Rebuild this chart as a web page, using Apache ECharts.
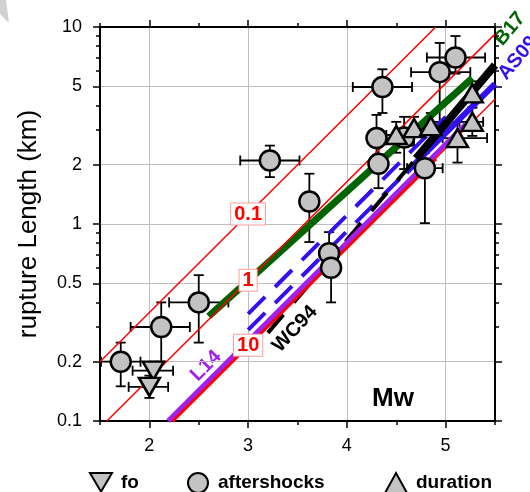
<!DOCTYPE html>
<html>
<head>
<meta charset="utf-8">
<script src="https://cdn.jsdelivr.net/npm/echarts@6/dist/echarts.min.js"></script>
<style>
html, body { margin: 0; padding: 0; background: #fff; }
#chart { width: 530px; height: 492px; }
</style>
</head>
<body>
<div id="chart"></div>
<script>
// axis ticks
var xMajor = [2, 3, 4, 5]
var xMinor = [1.5, 2.5, 3.5, 4.5, 5.5]
var yMajor = [0.1, 0.2, 0.5, 1, 2, 5, 10]
var yMinor = [0.3, 0.4, 0.6, 0.7, 0.8, 0.9, 3, 4, 6, 7, 8, 9]

// scaling lines: end points [Mw, L km]
var stress01 = [[1.5, 0.2], [4.9, 10]]
var stress1 = [[1.57, 0.1], [5.5, 9.2]]
var stress10 = [[2.23, 0.1], [5.5, 4.3]]
var stress10Thick = [[2.23, 0.1], [4.9, 2.15]]
var b17 = [[2.6, 0.34], [5.27, 5.5]]
var l14 = [[2.19, 0.1], [5.2, 3.2]]
var wc94Dash = [[3.2, 0.28], [4.7, 2.15]]
var wc94 = [[4.7, 2.15], [5.5, 6.4]]
var as09DashA = [[3.0, 0.35], [5.0, 3.5]]
var as09DashB = [[3.0, 0.29], [4.6, 1.83]]
var as09 = [[4.6, 1.83], [5.5, 5.15]]

// events: [Mw, L, Mw low, Mw high, L low, L high]
var fo = [
    [2.04, 0.18, 1.83, 2.24, 0.16, 0.20],
    [2.00, 0.149, 1.79, 2.19, 0.131, 0.17]
]
var aftershocks = [
    [1.71, 0.20, 1.51, 1.91, 0.15, 0.25],
    [2.12, 0.30, 1.81, 2.41, 0.20, 0.40],
    [2.50, 0.40, 2.20, 2.80, 0.25, 0.55],
    [3.22, 2.10, 2.92, 3.52, 1.73, 2.5],
    [3.62, 1.30, 3.62, 3.62, 0.81, 1.8],
    [3.82, 0.71, 3.82, 3.82, 0.60, 0.91],
    [3.84, 0.60, 3.84, 3.84, 0.40, 0.71],
    [4.36, 4.96, 4.06, 4.66, 3.66, 6.1],
    [4.30, 2.73, 4.30, 4.30, 2.02, 3.58],
    [4.32, 2.02, 4.32, 4.32, 1.52, 2.73],
    [4.58, 2.75, 4.58, 4.58, 1.90, 3.5],
    [4.79, 1.92, 4.61, 4.97, 1.01, 2.3],
    [4.94, 5.90, 4.65, 5.25, 3.3, 8.3],
    [5.10, 7.00, 4.81, 5.40, 5.8, 9.0]
]
var duration = [
    [4.50, 2.83, 4.40, 4.60, 2.3, 3.3],
    [4.68, 3.07, 4.58, 4.78, 2.5, 3.5],
    [4.85, 3.14, 4.75, 4.95, 2.6, 3.66],
    [5.12, 2.73, 4.97, 5.42, 2.05, 3.3],
    [5.27, 3.30, 5.14, 5.38, 2.8, 3.9],
    [5.27, 4.60, 5.27, 5.27, 3.9, 5.3]
]

var font = '"Liberation Sans", Arial, Helvetica, sans-serif'
var stressLabelMw = 3.0
var downTriangle = 'path://M0,0L20,0L10,17Z'

function lg(v) { return Math.log10(v) }
function toLog(pts) { return pts.map(function (p) { return [p[0], lg(p[1])] }) }
function atMw(pts, mw) {
    var a = toLog(pts)
    var t = (mw - a[0][0]) / (a[1][0] - a[0][0])
    return a[0][1] + t * (a[1][1] - a[0][1])
}

function lineSeries(name, pts, color, width, dash) {
    return {
        name: name, type: 'line', data: toLog(pts),
        showSymbol: false, symbol: 'none', silent: true, clip: true,
        lineStyle: { color: color, width: width, type: dash || 'solid', cap: 'butt' }
    }
}

function stressSeries(name, pts, text) {
    var s = lineSeries(name, pts, '#ff0000', 1.5)
    s.markPoint = {
        symbol: 'rect', symbolSize: 0, silent: true, animation: false,
        label: {
            show: true, position: 'inside', formatter: text,
            color: '#ff0000', fontWeight: 'bold', fontSize: 20, fontFamily: font,
            backgroundColor: '#fff', borderColor: '#ff9c9c', borderWidth: 1,
            padding: [1, 3, 0, 3]
        },
        data: [{ coord: [stressLabelMw, atMw(pts, stressLabelMw)] }]
    }
    return s
}

function errSeries(list) {
    return {
        type: 'custom', silent: true, z: 3,
        data: list.map(function (d) { return [d[0], lg(d[1]), d[2], d[3], lg(d[4]), lg(d[5])] }),
        encode: { x: 0, y: 1 },
        renderItem: function (params, api) {
            var st = { stroke: '#000', lineWidth: 1.8 }
            var kids = []
            var y = api.value(1)
            if (api.value(3) > api.value(2)) {
                var a = api.coord([api.value(2), y]), b = api.coord([api.value(3), y])
                kids.push({ type: 'line', shape: { x1: a[0], y1: a[1], x2: b[0], y2: b[1] }, style: st })
                kids.push({ type: 'line', shape: { x1: a[0], y1: a[1] - 5, x2: a[0], y2: a[1] + 5 }, style: st })
                kids.push({ type: 'line', shape: { x1: b[0], y1: b[1] - 5, x2: b[0], y2: b[1] + 5 }, style: st })
            }
            var c = api.coord([api.value(0), api.value(4)]), d = api.coord([api.value(0), api.value(5)])
            kids.push({ type: 'line', shape: { x1: c[0], y1: c[1], x2: d[0], y2: d[1] }, style: st })
            kids.push({ type: 'line', shape: { x1: c[0] - 5, y1: c[1], x2: c[0] + 5, y2: c[1] }, style: st })
            kids.push({ type: 'line', shape: { x1: d[0] - 5, y1: d[1], x2: d[0] + 5, y2: d[1] }, style: st })
            return { type: 'group', children: kids }
        }
    }
}

var markerStyle = { color: '#c3c3c3', borderColor: '#000', borderWidth: 2.5, opacity: 1 }
function markerSeries(name, list, symbol, size) {
    return {
        name: name, type: 'scatter', z: 4, silent: true,
        symbol: symbol, symbolSize: size,
        itemStyle: markerStyle,
        data: list.map(function (d) { return [d[0], lg(d[1])] })
    }
}

var black = '#000'
var tickStyle = { color: black, width: 1.5 }
function xAx(grid, pos, ticks, len, main) {
    return {
        type: 'value', gridIndex: grid, position: pos, min: 1.5, max: 5.5,
        axisLine: { show: main !== undefined, onZero: false, lineStyle: { color: black, width: 2 } },
        axisTick: { show: true, customValues: ticks, length: len, lineStyle: tickStyle },
        axisLabel: main ? { customValues: xMajor, fontSize: 18, color: black, fontFamily: font, margin: 16 } : { show: false },
        splitLine: main ? { show: true, lineStyle: { color: '#bdbdbd', width: 1 } } : { show: false }
    }
}
function yAx(grid, pos, ticks, len, main) {
    return {
        type: 'value', gridIndex: grid, position: pos, min: lg(0.1), max: lg(10),
        axisLine: { show: main !== undefined, onZero: false, lineStyle: { color: black, width: 2 } },
        axisTick: { show: true, customValues: ticks.map(lg), length: len, lineStyle: tickStyle },
        axisLabel: main ? {
            customValues: yMajor.map(lg), fontSize: 18, color: black, fontFamily: font, margin: 18,
            formatter: function (v) { return String(parseFloat(Math.pow(10, v).toPrecision(2))) }
        } : { show: false },
        splitLine: main ? { show: true, lineStyle: { color: '#bdbdbd', width: 1 } } : { show: false },
        name: main ? 'rupture Length (km)' : '', nameLocation: 'middle', nameGap: 58,
        nameTextStyle: { fontSize: 26, color: black, fontFamily: font }
    }
}

var legendText = { fontSize: 19, fontWeight: 'bold', color: black, fontFamily: font, padding: [0, 0, 0, 4] }
function legendAt(name, left) {
    return { data: [name], left: left, top: 472, padding: 0, itemWidth: 22, itemHeight: 20,
             selectedMode: false, textStyle: legendText }
}

function note(text, x, y, color, deg, size) {
    return { type: 'text', x: x, y: y, rotation: deg * Math.PI / 180, silent: true,
             style: { text: text, fill: color, font: 'bold ' + size + 'px ' + font,
                      align: 'center', verticalAlign: 'middle' } }
}

var chart = echarts.init(document.getElementById('chart'), null, { renderer: 'canvas' })
chart.setOption({
    animation: false,
    backgroundColor: '#fff',
    grid: [
        { left: 100, top: 27, width: 395, height: 394 },
        { left: 100, top: 27, width: 395, height: 394 }
    ],
    xAxis: [
        xAx(0, 'bottom', xMajor, 7, true),
        xAx(0, 'top', xMajor, 7, false),
        xAx(1, 'bottom', xMinor, 4),
        xAx(1, 'top', xMinor, 4)
    ],
    yAxis: [
        yAx(0, 'left', yMajor, 7, true),
        yAx(0, 'right', yMajor, 7, false),
        yAx(1, 'left', yMinor, 4),
        yAx(1, 'right', yMinor, 4)
    ],
    legend: [
        legendAt('fo', 89),
        legendAt('aftershocks', 187),
        legendAt('duration', 384)
    ],
    series: [
        lineSeries('B17', b17, '#006400', 7),
        lineSeries('AS09 a', as09DashA, '#3311ee', 4, [24, 14]),
        lineSeries('AS09 b', as09DashB, '#3311ee', 4, [24, 14]),
        lineSeries('AS09', as09, '#3311ee', 6),
        lineSeries('WC94 dash', wc94Dash, black, 4, [24, 16]),
        lineSeries('WC94', wc94, black, 8),
        lineSeries('10 thick', stress10Thick, '#ff0000', 4),
        lineSeries('L14', l14, '#a020f0', 5),
        stressSeries('0.1', stress01, '0.1'),
        stressSeries('1', stress1, '1'),
        stressSeries('10', stress10, '10'),
        errSeries(fo),
        errSeries(aftershocks),
        errSeries(duration),
        markerSeries('fo', fo, downTriangle, [21, 18]),
        markerSeries('aftershocks', aftershocks, 'circle', 20),
        markerSeries('duration', duration, 'triangle', [21, 18])
    ],
    graphic: [
        { type: 'polygon', silent: true, shape: { points: [[0, 0], [6, 0], [9, 23], [0, 14]] }, style: { fill: '#d0d0d0' } },
        note('Mw', 393, 399, black, 0, 26),
        note('WC94', 295, 329, black, 47, 20),
        note('L14', 206, 366, '#a020f0', 45, 20),
        note('B17', 510, 29, '#006400', 50, 20),
        note('AS09', 518, 58, '#3311ee', 50, 20)
    ]
})
</script>
</body>
</html>
